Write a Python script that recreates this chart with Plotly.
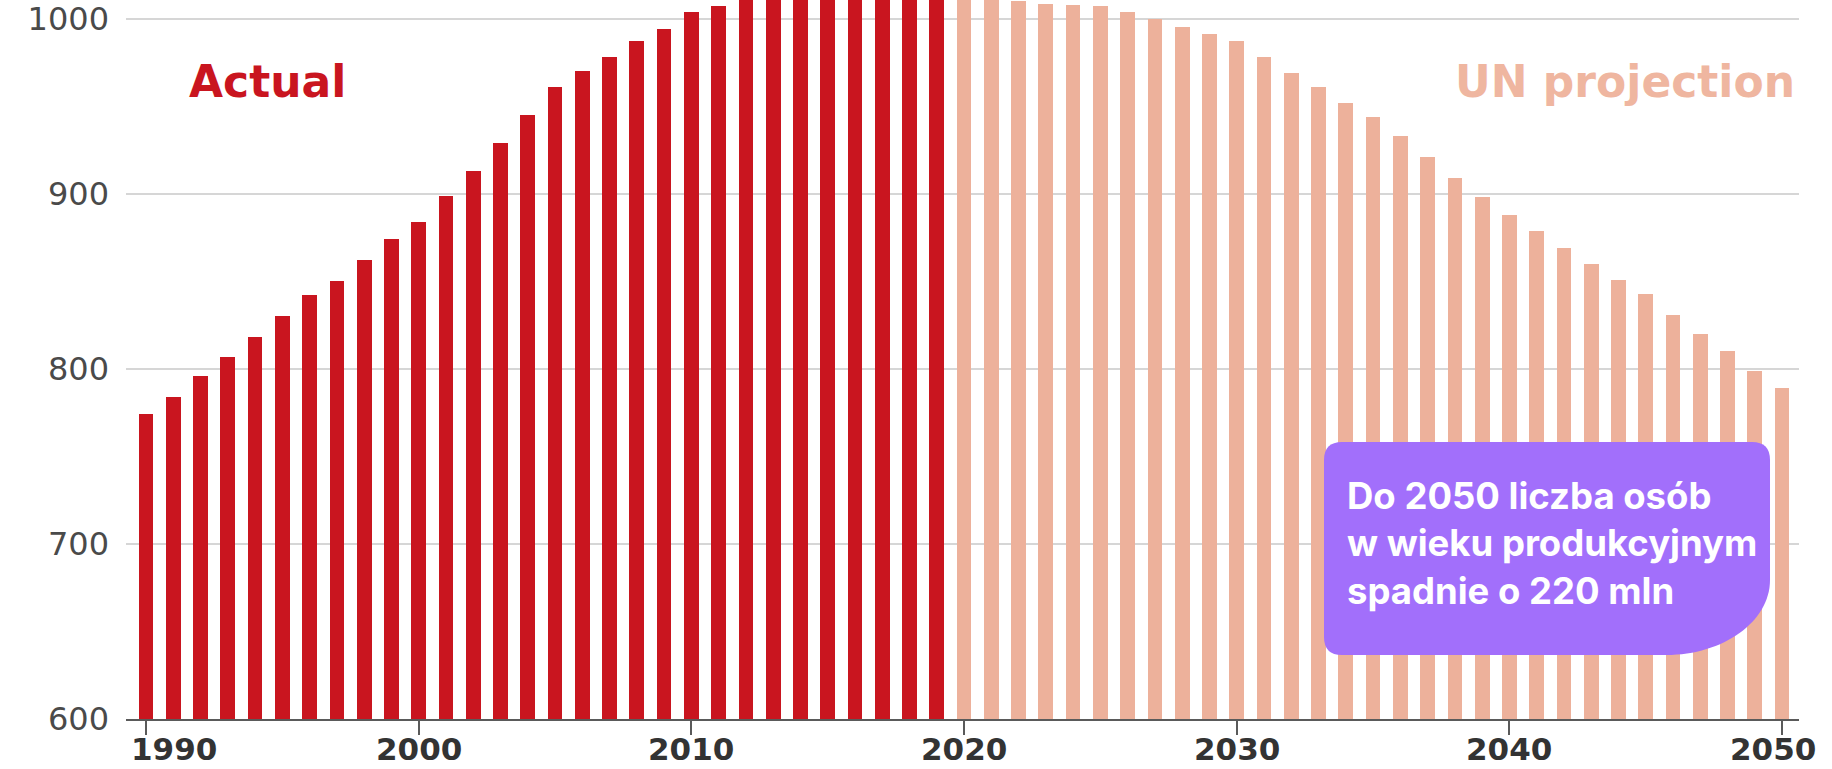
import plotly.graph_objects as go

# Working-age population, millions
actual_years = list(range(1990, 2020))
actual_values = [774, 784, 796, 807, 818, 830, 842, 850, 862, 874,
                 884, 899, 913, 929, 945, 961, 970, 978, 987, 994,
                 1004, 1007, 1012, 1014, 1015, 1016, 1016, 1015, 1014, 1013]

proj_years = list(range(2020, 2051))
proj_values = [1012, 1011, 1010, 1008.7, 1007.7, 1007, 1004, 1000, 995, 991,
               987, 978, 969, 961, 952, 944, 933, 921, 909, 898,
               888, 879, 869, 860, 851, 843, 831, 820, 810, 799, 789]

y_ticks = [600, 700, 800, 900, 1000]
x_ticks = [1990, 2000, 2010, 2020, 2030, 2040, 2050]
x_tick_labels = ["1990", "2000", "2010", "2020", "2030", "2040", "2050"]

RED = "#C9151F"
SALMON = "#EDB19B"
PURPLE = "#A26FFB"

W, H = 1832, 769
ML, MR, MT, MB = 126, 33, 0, 50
PW, PH = W - ML - MR, H - MT - MB


def fx(xp):
    return (xp - ML) / PW


def fy(yp):
    return (MT + PH - yp) / PH


fig = go.Figure()
fig.add_trace(go.Bar(x=actual_years, y=actual_values, width=0.54,
                     marker=dict(color=RED, line=dict(width=0)),
                     name="Actual", showlegend=False, hoverinfo="x+y"))
fig.add_trace(go.Bar(x=proj_years, y=proj_values, width=0.54,
                     marker=dict(color=SALMON, line=dict(width=0)),
                     name="UN projection", showlegend=False, hoverinfo="x+y"))

# Callout box: small rounded corners, large sweep at the bottom right
x0, x1, y0, y1 = 1324, 1770, 442, 655
r, rx, ry, k = 18, 104, 75, 0.5523
pts = [
    ("M", [(x0 + r, y0)]),
    ("L", [(x1 - r, y0)]),
    ("Q", [(x1, y0), (x1, y0 + r)]),
    ("L", [(x1, y1 - ry)]),
    ("C", [(x1, y1 - ry + k * ry), (x1 - rx + k * rx, y1), (x1 - rx, y1)]),
    ("L", [(x0 + r, y1)]),
    ("Q", [(x0, y1), (x0, y1 - r)]),
    ("L", [(x0, y0 + r)]),
    ("Q", [(x0, y0), (x0 + r, y0)]),
]
path = " ".join(cmd + " " + " ".join(f"{fx(a):.5f},{fy(b):.5f}" for a, b in p) for cmd, p in pts) + " Z"
fig.add_shape(type="path", path=path, xref="paper", yref="paper",
              fillcolor=PURPLE, line=dict(width=0), layer="above")

fig.add_annotation(text="Do 2050 liczba osób<br>w wieku produkcyjnym<br>spadnie o 220 mln",
                   xref="paper", yref="paper", x=fx(1345), y=fy(472),
                   xanchor="left", yanchor="top", align="left", showarrow=False,
                   font=dict(family="Inter", size=36.5, color="white", weight=700))

fig.add_annotation(text="Actual", xref="paper", yref="paper",
                   x=fx(187), y=fy(81), xanchor="left", yanchor="middle", showarrow=False,
                   font=dict(family="DejaVu Sans", size=44, color=RED, weight=700))
fig.add_annotation(text="UN projection", xref="paper", yref="paper",
                   x=fx(1797), y=fy(81), xanchor="right", yanchor="middle", showarrow=False,
                   font=dict(family="DejaVu Sans", size=44, color="#EFB6A0", weight=700))

# Year labels under the tick marks; the end labels sit slightly inward
x_label_shift = {1990: 28, 2050: -9}
for xv, lab in zip(x_ticks, x_tick_labels):
    fig.add_annotation(text=lab, xref="x", yref="paper", x=xv, y=fy(729),
                       xanchor="center", yanchor="top", showarrow=False,
                       xshift=x_label_shift.get(xv, 0),
                       font=dict(family="DejaVu Sans", size=31, color="#333333", weight=700))

fig.update_layout(
    width=W, height=H, autosize=False,
    margin=dict(l=ML, r=MR, t=MT, b=MB, pad=0),
    paper_bgcolor="white", plot_bgcolor="white",
    bargap=0, showlegend=False,
)
fig.update_xaxes(range=[1989.267, 2050.62], tickmode="array", tickvals=x_ticks,
                 showticklabels=False,
                 showgrid=False, zeroline=False, showline=True, linecolor="#5a5a5a", linewidth=2,
                 ticks="outside", ticklen=14, tickwidth=2, tickcolor="#5a5a5a",
                 automargin=False)
fig.update_yaxes(range=[600, 1010.7], tickmode="array", tickvals=y_ticks,
                 showgrid=True, gridcolor="#d6d6d6", gridwidth=2, zeroline=False, showline=False,
                 ticks="", ticklabelstandoff=16, ticklabeloverflow="allow",
                 tickfont=dict(family="DejaVu Sans", size=32, color="#4a4a4a"),
                 automargin=False)

fig.write_html("out.html")
